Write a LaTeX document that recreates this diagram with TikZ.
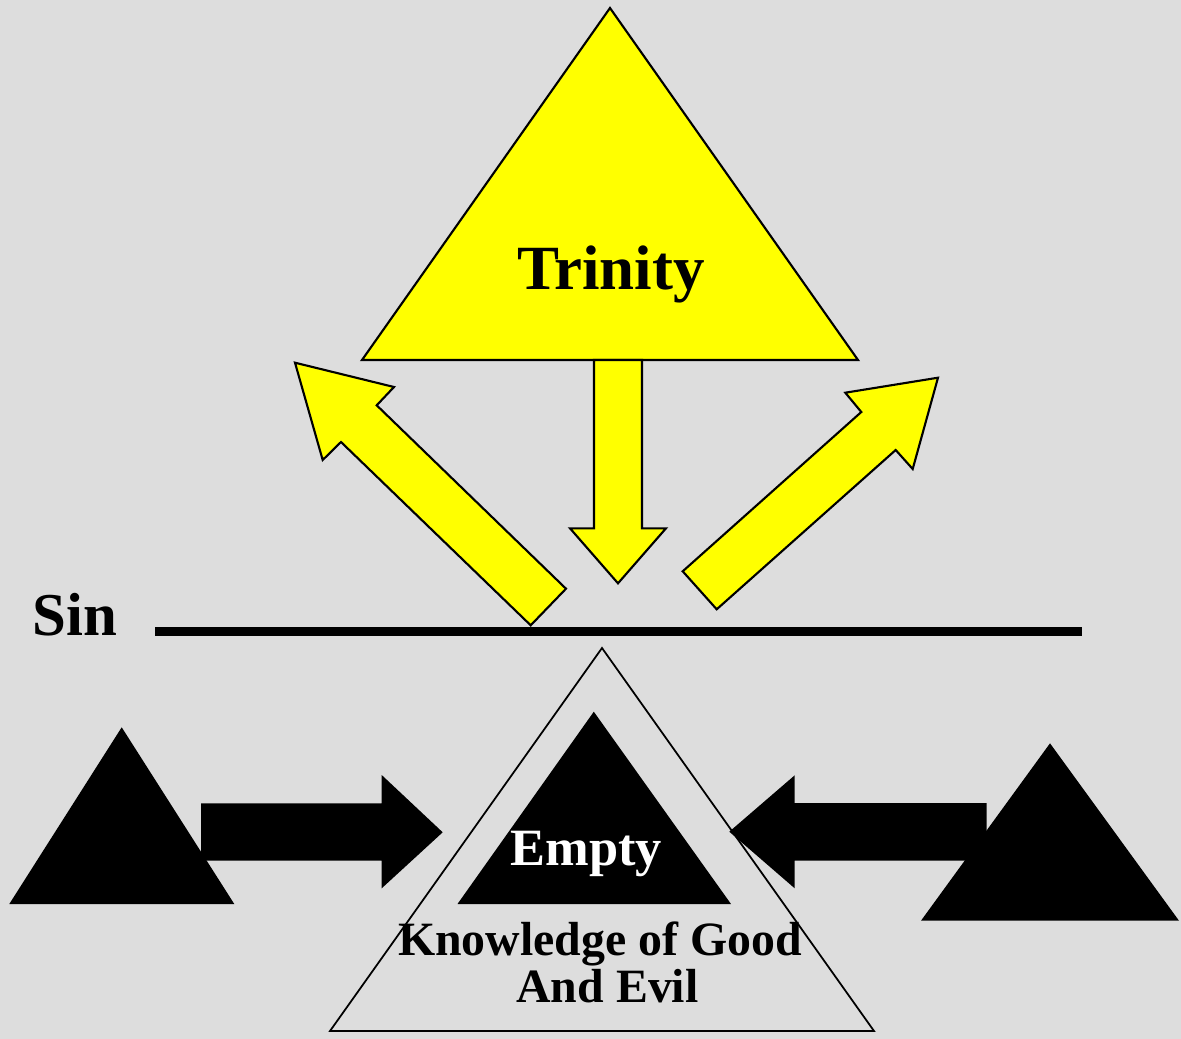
\documentclass[tikz,border=0pt]{standalone}
\usepackage{fontspec}
\setmainfont{Liberation Serif}
\definecolor{bggray}{RGB}{221,221,221}
\definecolor{trinyellow}{RGB}{255,255,0}

\begin{document}
\begin{tikzpicture}[x=0.01cm, y=-0.01cm,
    yel/.style={fill=trinyellow, draw=black, line width=0.6pt, line join=miter},
    blk/.style={fill=black},
    lbl/.style={inner sep=0, anchor=base, font=\bfseries}]
  \fill[bggray] (0,0) rectangle (1181,1039);
  \useasboundingbox (0,0) rectangle (1181,1039);

  % upper triangle and arrows
  \draw[yel] (610,8) -- (362,360) -- (858,360) -- cycle;
  \draw[yel] (295,362.7) -- (394,387) -- (376.7,405.3) -- (566,588.7)
    -- (530.7,625.3) -- (341,442) -- (322.7,460) -- cycle;
  \draw[yel] (594,360) -- (642,360) -- (642,528.3) -- (666,528.3)
    -- (618,583.3) -- (570,528.3) -- (594,528.3) -- cycle;
  \draw[yel] (938,377.7) -- (912.7,469) -- (895.7,450) -- (716.7,609.3)
    -- (682.7,571.3) -- (861.3,412) -- (845.3,392.7) -- cycle;

  % sin line
  \draw[line width=2.47pt] (155,631.7) -- (1082,631.7);

  % lower triangles and arrows
  \fill[blk] (593.8,711.7) -- (457.5,904) -- (731,904) -- cycle;
  \fill[blk] (121.7,727.3) -- (9.3,904) -- (234.3,904) -- cycle;
  \fill[blk] (201,803.3) -- (381.7,803.3) -- (381.7,775) -- (442.7,832.3)
    -- (381.7,888.3) -- (381.7,860.7) -- (201,860.7) -- cycle;
  \fill[blk] (986.7,803) -- (794.7,803) -- (794.7,775.3) -- (729.3,831.7)
    -- (794.7,888.3) -- (794.7,860.7) -- (986.7,860.7) -- cycle;
  \fill[blk] (1050,743.3) -- (921,920.7) -- (1179,920.7) -- cycle;
  \draw[line width=0.5pt] (602,648) -- (330,1031) -- (874,1031) -- cycle;

  % input nodes position and text
  \node [lbl](trinity) at (611,289) {\fontsize{17.9}{20}\selectfont Trinity};
  \node [lbl, anchor=base west](sin) at (31.7,635) {\fontsize{17.3}{20}\selectfont Sin};
  \node [lbl, text=white](empty) at (586.5,865) {\fontsize{14.9}{17}\selectfont Empty};
  \node [lbl](know) at (600,955) {\fontsize{13.6}{16}\selectfont Knowledge of Good};
  \node [lbl](evil) at (607.5,1002.7) {\fontsize{13.6}{16}\selectfont And Evil};
\end{tikzpicture}
\end{document}
